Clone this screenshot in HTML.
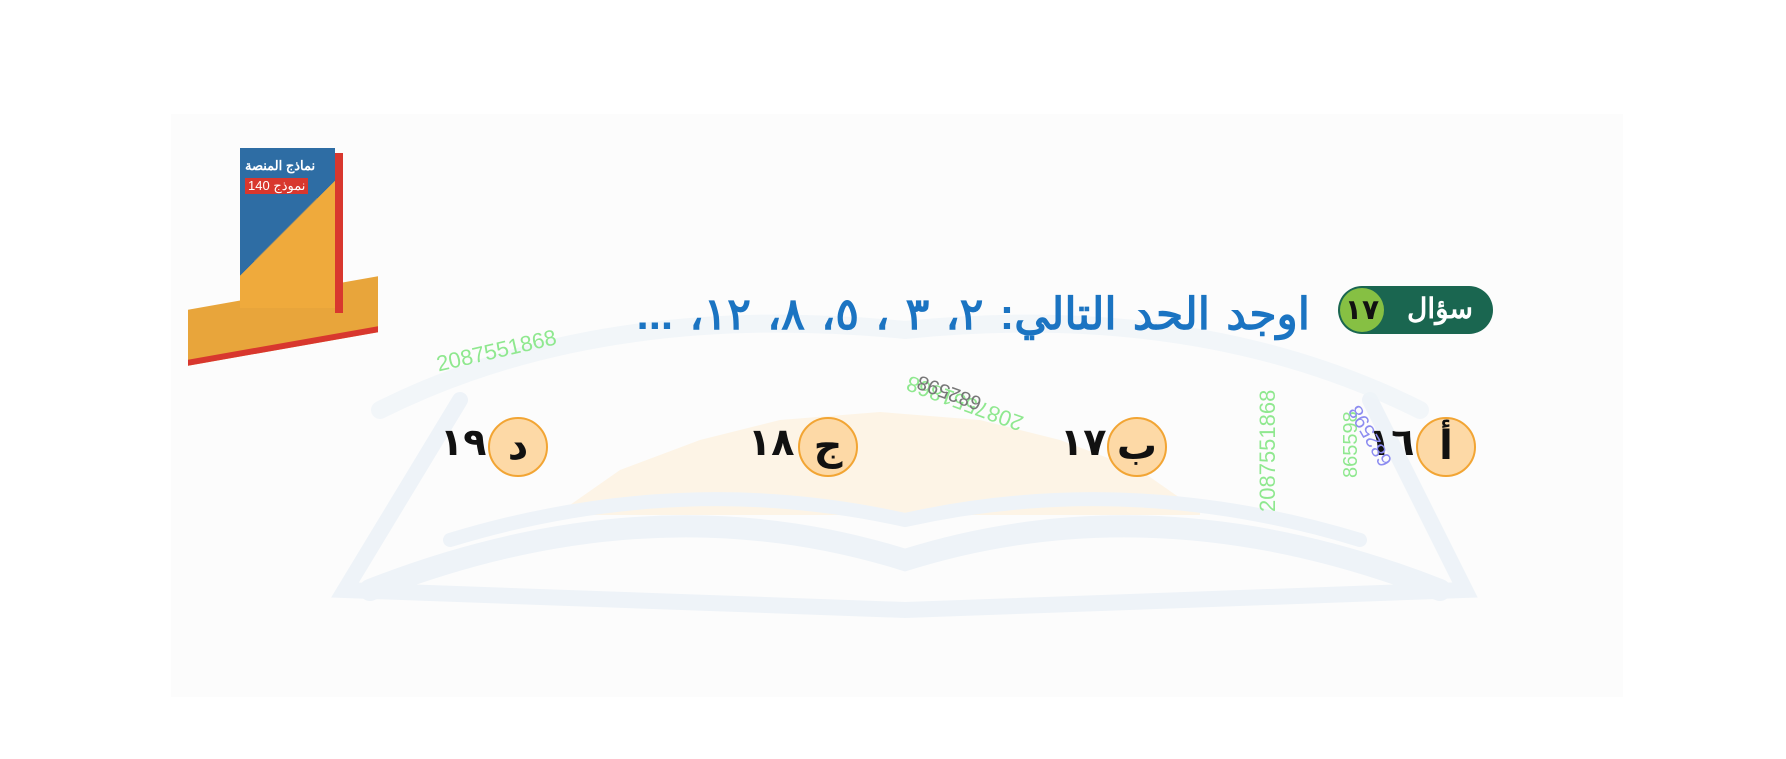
<!DOCTYPE html>
<html><head><meta charset="utf-8">
<style>
html,body{margin:0;padding:0;width:1786px;height:759px;overflow:hidden;background:#fff;font-family:"Liberation Sans","Noto Sans CJK SC",sans-serif}
#panel{position:absolute;left:171px;top:114px;width:1452px;height:583px;background:#fcfcfc}
.abs{position:absolute}
.opt{position:absolute;width:60px;height:60px;border-radius:50%;background:#fdd9a6;border:2px solid #f2a534;box-sizing:border-box;text-align:center;line-height:54px;font-size:40px;font-weight:bold;color:#111;font-family:"DejaVu Sans",sans-serif}
.num{position:absolute;font-size:38px;font-weight:bold;color:#111;font-family:"DejaVu Sans",sans-serif;direction:rtl}
.wm{position:absolute;font-size:22px;color:#8fe88f;white-space:nowrap;transform-origin:left top}
</style></head><body>
<div id="panel"></div>
<svg class="abs" style="left:0;top:0" width="1786" height="759">
 <g fill="#fdf4e6">
  <path d="M560 512 L620 470 L700 440 L780 420 L880 412 L980 420 L1060 440 L1140 470 L1200 512 L1200 515 L560 515Z"/>
 </g>
 <g fill="none" stroke="#eef3f8" stroke-linecap="round">
  <path d="M370 590 Q650 480 905 560 Q1160 480 1440 590" stroke-width="22"/>
  <path d="M450 540 Q680 470 905 520 Q1130 470 1360 540" stroke-width="14"/>
  <path d="M460 400 L345 590 L905 610 L1465 590 L1370 400" stroke-width="16"/>
  <path d="M380 410 Q600 300 905 330 Q1200 300 1420 410" stroke-width="18" opacity="0.7"/>
 </g>
</svg>
<div class="abs" style="left:183px;top:143px;width:200px;height:212px">
 <div class="abs" style="left:5px;top:150px;width:190px;height:50px;background:#e8a53b;transform:skewY(-10deg);border-bottom:6px solid #d8372e"></div>
 <div class="abs" style="left:57px;top:5px;width:95px;height:160px;background:#2e6da4"></div>
 <div class="abs" style="left:57px;top:5px;width:95px;height:160px;background:linear-gradient(135deg,transparent 50%,#efaa3c 50%)"></div>
 <div class="abs" style="left:152px;top:10px;width:8px;height:160px;background:#d8372e"></div>
 <div class="abs" style="left:62px;top:15px;font-size:13px;color:#fff;font-weight:bold">نماذج المنصة</div>
 <div class="abs" style="left:62px;top:35px;font-size:13px;color:#fff;background:#d8372e;padding:0 3px">140 نموذج</div>
</div>
<div class="abs" style="left:1338px;top:286px;width:155px;height:48px;border-radius:24px;background:#1a6650"></div>
<div class="abs" style="left:1340px;top:288px;width:44px;height:44px;border-radius:50%;background:#86c043;text-align:center;line-height:44px;font-size:28px;font-weight:bold;color:#111;font-family:'DejaVu Sans',sans-serif">١٧</div>
<div class="abs" style="left:1395px;top:286px;width:90px;line-height:46px;text-align:center;font-size:28px;font-weight:bold;color:#fff">سؤال</div>
<div class="abs" style="left:590px;top:290px;width:720px;text-align:right;direction:rtl;font-size:44px;font-weight:bold;color:#1b74c2;white-space:nowrap;line-height:50px;word-spacing:4px">اوجد الحد التالي: ٢، ٣ ، ٥، ٨، ١٢، ...</div>

<div class="opt" style="left:1416px;top:417px">أ</div>
<div class="num" style="left:1368px;top:420px">١٦</div>
<div class="opt" style="left:1107px;top:417px">ب</div>
<div class="num" style="left:1060px;top:420px">١٧</div>
<div class="opt" style="left:798px;top:417px">ج</div>
<div class="num" style="left:748px;top:420px">١٨</div>
<div class="opt" style="left:488px;top:417px">د</div>
<div class="num" style="left:440px;top:420px">١٩</div>

<div class="wm" style="left:434px;top:352px;transform:rotate(-13deg)">2087551868</div>
<div class="wm" style="left:1255px;top:512px;transform:rotate(-90deg)">2087551868</div>
<div class="wm" style="left:1018px;top:436px;transform:rotate(200deg)">2087551868</div>
<div class="wm" style="left:1340px;top:478px;transform:rotate(-90deg);font-size:20px">865598</div>
<div class="wm" style="left:1378px;top:470px;transform:rotate(240deg);color:#8c8cf0;font-size:20px">682598</div>
<div class="wm" style="left:977px;top:414px;transform:rotate(200deg);color:#777;font-size:20px">682598</div>
</body></html>
